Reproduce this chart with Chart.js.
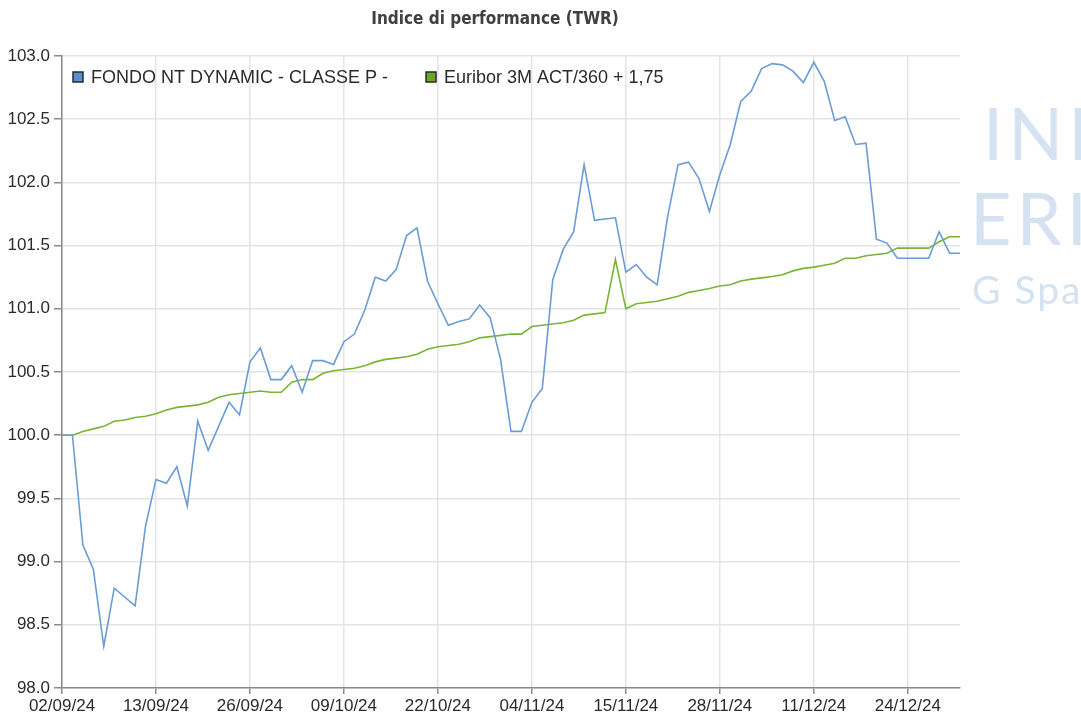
<!DOCTYPE html>
<html>
<head>
<meta charset="utf-8">
<title>Indice di performance (TWR)</title>
<script src="https://cdn.jsdelivr.net/npm/chart.js@4.4.1/dist/chart.umd.min.js"></script>
<style>
  body { margin: 0; background: #fff; }
  #wrap { width: 1081px; height: 718px; }
</style>
</head>
<body>
<div id="wrap"><canvas id="myChart" width="1081" height="718"></canvas></div>
<script>
// business days 02/09/24 - 31/12/24
const dates = [
  "02/09/24", "03/09/24", "04/09/24", "05/09/24", "06/09/24", "09/09/24", "10/09/24", "11/09/24",
  "12/09/24", "13/09/24", "16/09/24", "17/09/24", "18/09/24", "19/09/24", "20/09/24", "23/09/24",
  "24/09/24", "25/09/24", "26/09/24", "27/09/24", "30/09/24",
  "01/10/24", "02/10/24", "03/10/24", "04/10/24", "07/10/24", "08/10/24", "09/10/24", "10/10/24",
  "11/10/24", "14/10/24", "15/10/24", "16/10/24", "17/10/24", "18/10/24", "21/10/24", "22/10/24",
  "23/10/24", "24/10/24", "25/10/24", "28/10/24", "29/10/24", "30/10/24", "31/10/24",
  "01/11/24", "04/11/24", "05/11/24", "06/11/24", "07/11/24", "08/11/24", "11/11/24", "12/11/24",
  "13/11/24", "14/11/24", "15/11/24", "18/11/24", "19/11/24", "20/11/24", "21/11/24", "22/11/24",
  "25/11/24", "26/11/24", "27/11/24", "28/11/24", "29/11/24",
  "02/12/24", "03/12/24", "04/12/24", "05/12/24", "06/12/24", "09/12/24", "10/12/24", "11/12/24",
  "12/12/24", "13/12/24", "16/12/24", "17/12/24", "18/12/24", "19/12/24", "20/12/24", "23/12/24",
  "24/12/24", "25/12/24", "26/12/24", "27/12/24", "30/12/24", "31/12/24"
];

// fund index (TWR)
const fondo = [
  100.00, 100.00, 99.13, 98.94, 98.33, 98.79, 98.72, 98.65, 99.28, 99.65,
  99.62, 99.75, 99.44, 100.11, 99.88, 100.07, 100.26, 100.16, 100.58, 100.69,
  100.44, 100.44, 100.55, 100.34, 100.59, 100.59, 100.56, 100.74, 100.80, 100.99,
  101.25, 101.22, 101.31, 101.58, 101.64, 101.22, 101.04, 100.87, 100.90, 100.92,
  101.03, 100.93, 100.60, 100.03, 100.03, 100.26, 100.37, 101.23, 101.47, 101.61,
  102.14, 101.70, 101.71, 101.72, 101.29, 101.35, 101.25, 101.19, 101.73, 102.14,
  102.16, 102.03, 101.77, 102.06, 102.30, 102.64, 102.72, 102.90, 102.94, 102.93,
  102.88, 102.79, 102.95, 102.80, 102.49, 102.52, 102.30, 102.31, 101.55, 101.52,
  101.40, 101.40, 101.40, 101.40, 101.61, 101.44, 101.44
];

// benchmark
const euribor = [
  100.00, 100.00, 100.03, 100.05, 100.07, 100.11, 100.12, 100.14, 100.15, 100.17,
  100.20, 100.22, 100.23, 100.24, 100.26, 100.30, 100.32, 100.33, 100.34, 100.35,
  100.34, 100.34, 100.42, 100.44, 100.44, 100.49, 100.51, 100.52, 100.53, 100.55,
  100.58, 100.60, 100.61, 100.62, 100.64, 100.68, 100.70, 100.71, 100.72, 100.74,
  100.77, 100.78, 100.79, 100.80, 100.80, 100.86, 100.87, 100.88, 100.89, 100.91,
  100.95, 100.96, 100.97, 101.39, 101.00, 101.04, 101.05, 101.06, 101.08, 101.10,
  101.13, 101.145, 101.16, 101.18, 101.19, 101.22, 101.235, 101.245, 101.255, 101.27,
  101.30, 101.32, 101.33, 101.345, 101.36, 101.40, 101.40, 101.42, 101.43, 101.44,
  101.48, 101.48, 101.48, 101.48, 101.53, 101.57, 101.57
];

const seriesNames = ["FONDO NT DYNAMIC - CLASSE P -", "Euribor 3M ACT/360 + 1,75"];
const yMin = 98, yMax = 103, yStep = 0.5;
const tickEvery = 9;

const GRID = "#e4e4e4";
const AXIS = "#8a8a8a";
const TEXT = "#2b2b2b";

// title, watermark and legend drawn on the canvas
const extras = {
  id: "extras",
  beforeDraw: (chart) => {
    const ctx = chart.ctx;
    ctx.save();
    ctx.fillStyle = "#d4e2f1";
    ctx.textBaseline = "alphabetic";
    ctx.textAlign = "left";
    ctx.letterSpacing = "5px";
    ctx.font = '72px Lato, "Open Sans", sans-serif';
    ctx.fillText("INI", 983, 160);
    ctx.fillText("ERI", 970, 245);
    ctx.letterSpacing = "2px";
    ctx.font = '39px Lato, "Open Sans", sans-serif';
    ctx.fillText("G Spa", 972, 304);
    ctx.restore();
  },
  afterDraw: (chart) => {
    const ctx = chart.ctx;
    ctx.save();
    ctx.fillStyle = "#404040";
    ctx.font = 'bold 17px "DejaVu Sans Condensed", "DejaVu Sans", sans-serif';
    ctx.textAlign = "center";
    ctx.textBaseline = "middle";
    ctx.fillText("Indice di performance (TWR)", 495, 20);

    // legend inside plot area
    const pos = [73, 426];
    ctx.font = '18px "Liberation Sans", Arial, sans-serif';
    ctx.textAlign = "left";
    chart.data.datasets.forEach((ds, i) => {
      const x = pos[i], y = 72;
      ctx.fillStyle = ds.legendColor;
      ctx.fillRect(x, y, 10, 10);
      ctx.strokeStyle = "#2a2a2a";
      ctx.lineWidth = 1.5;
      ctx.strokeRect(x, y, 10, 10);
      ctx.fillStyle = TEXT;
      ctx.fillText(ds.label, x + 18, y + 6);
    });
    ctx.restore();
  },
};

const ctx = document.getElementById("myChart");
new Chart(ctx, {
  type: "line",
  data: {
    labels: dates,
    datasets: [
      {
        label: seriesNames[0],
        data: fondo,
        borderColor: "#6a9cd6",
        legendColor: "#5b8fcc",
        borderWidth: 1.6,
        pointRadius: 0,
        tension: 0,
        fill: false,
      },
      {
        label: seriesNames[1],
        data: euribor,
        borderColor: "#78b535",
        legendColor: "#6aa820",
        borderWidth: 1.6,
        pointRadius: 0,
        tension: 0,
        fill: false,
      },
    ],
  },
  options: {
    responsive: false,
    animation: false,
    layout: { padding: { top: 56, right: 121, left: 0, bottom: 0 } },
    scales: {
      x: {
        type: "category",
        offset: false,
        afterFit: (s) => { s.height = 30; },
        grid: {
          color: (c) => (c.index % tickEvery === 0 ? GRID : "rgba(0,0,0,0)"),
          tickColor: (c) => (c.index % tickEvery === 0 ? AXIS : "rgba(0,0,0,0)"),
          lineWidth: 1.5,
          tickLength: 6,
        },
        border: { color: AXIS, width: 1.5 },
        ticks: {
          autoSkip: false,
          maxRotation: 0,
          padding: 2,
          color: TEXT,
          font: { family: '"Liberation Sans", Arial, sans-serif', size: 17 },
          callback: function (value, index) {
            return index % tickEvery === 0 ? this.getLabelForValue(value) : "";
          },
        },
      },
      y: {
        min: yMin,
        max: yMax,
        afterFit: (s) => { s.width = 62; },
        grid: {
          color: GRID,
          tickColor: AXIS,
          lineWidth: 1.5,
          tickLength: 8,
        },
        border: { color: AXIS, width: 1.5 },
        ticks: {
          stepSize: yStep,
          padding: 4,
          color: TEXT,
          font: { family: '"Liberation Sans", Arial, sans-serif', size: 17 },
          callback: (v) => v.toFixed(1),
        },
      },
    },
    plugins: {
      legend: { display: false },
      title: { display: false },
      tooltip: { enabled: false },
    },
  },
  plugins: [extras],
});
</script>
</body>
</html>
